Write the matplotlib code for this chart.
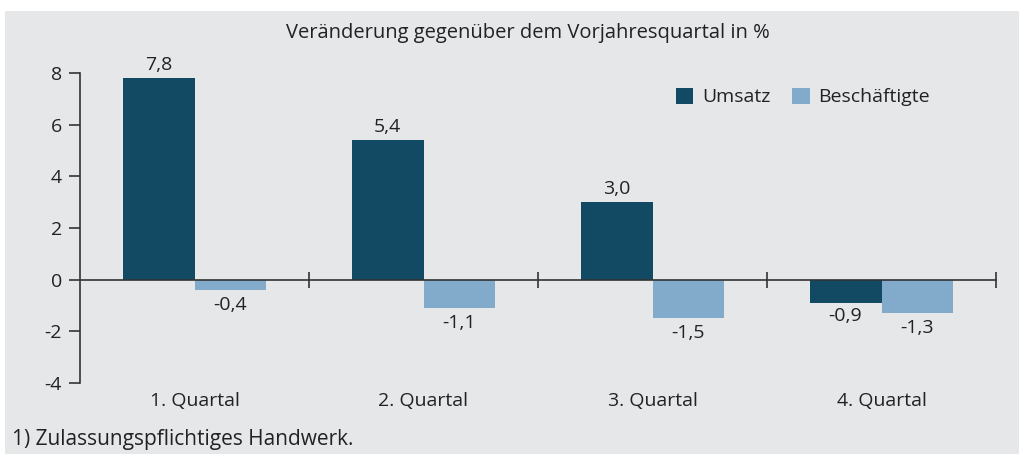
# %% pacotes
import matplotlib
matplotlib.use('Agg')
import matplotlib.pyplot as plt
import matplotlib.transforms as mtransforms
from matplotlib.patches import Rectangle, Patch

plt.rcParams['font.family'] = ['Open Sans', 'DejaVu Sans']
plt.rcParams['axes.unicode_minus'] = False

# %% dados
quartale = ['1. Quartal', '2. Quartal', '3. Quartal', '4. Quartal']
umsatz = [7.8, 5.4, 3.0, -0.9]
beschaeftigte = [-0.4, -1.1, -1.5, -1.3]
y_ticks = [-4, -2, 0, 2, 4, 6, 8]

# %% estilo
c_dunkel = '#134a63'
c_hell = '#82aacb'
c_text = '#222222'
c_bg = '#e6e7e9'
fs = 14

W, H = 1020, 454
fig = plt.figure(figsize=(W / 100, H / 100), dpi=100)
fig.patch.set_facecolor('white')
fig.patches.append(Rectangle((5 / W, 0), 1, 1 - 11 / H, transform=fig.transFigure,
                             facecolor=c_bg, edgecolor='none', zorder=-10))

ax = fig.add_axes([80 / W, 1 - 383 / H, (996 - 80) / W, 310 / H])
ax.set_facecolor('none')
ax.set_zorder(5)

# %% barras
bw = 0.314
xs = [i + 0.5 for i in range(len(quartale))]
ax.bar(xs, umsatz, width=-bw, align='edge', color=c_dunkel, zorder=2)
ax.bar(xs, beschaeftigte, width=bw, align='edge', color=c_hell, zorder=2)

for x, v in zip(xs, umsatz):
    off = 3 if v >= 0 else -3
    ax.annotate(f'{v:.1f}'.replace('.', ','), (x - bw / 2, v), xytext=(0, off),
                textcoords='offset points', ha='center',
                va='bottom' if v >= 0 else 'top', fontsize=fs, color=c_text)
for x, v in zip(xs, beschaeftigte):
    off = 4 if v >= 0 else -4
    ax.annotate(f'{v:.1f}'.replace('.', ','), (x + bw / 2, v), xytext=(0, off),
                textcoords='offset points', ha='center',
                va='bottom' if v >= 0 else 'top', fontsize=fs, color=c_text)

# %% eixos
ax.set_xlim(0, 4)
ax.set_ylim(-4, 8)
ax.set_yticks(y_ticks)
ax.set_yticklabels([str(t) for t in y_ticks])
ax.tick_params(axis='y', direction='out', length=8, width=1.2, colors='#333333',
               labelsize=fs, labelcolor=c_text, pad=5)
for s in ['top', 'right']:
    ax.spines[s].set_visible(False)
ax.spines['left'].set_color('#333333')
ax.spines['left'].set_linewidth(1.2)
ax.spines['bottom'].set_position(('data', 0))
ax.spines['bottom'].set_color('#333333')
ax.spines['bottom'].set_linewidth(1.2)
ax.spines['bottom'].set_zorder(3)
ax.set_xticks([1, 2, 3, 4])
ax.set_xticklabels([])
ax.tick_params(axis='x', direction='inout', length=12, width=1.2, colors='#333333')

trans = mtransforms.blended_transform_factory(ax.transData, ax.transAxes)
for x, q in zip(xs, quartale):
    ax.text(x, -0.058, q, transform=trans, ha='center', va='center',
            fontsize=fs, color=c_text)

# %% textos
fig.text(528 / W, 1 - 33 / H, 'Veränderung gegenüber dem Vorjahresquartal in %',
         ha='center', va='center', fontsize=14.5, color=c_text)
fig.text(12 / W, 1 - 440 / H, '1) Zulassungspflichtiges Handwerk.',
         ha='left', va='center', fontsize=15, color=c_text)

handles = [Patch(facecolor=c_dunkel, label='Umsatz'),
           Patch(facecolor=c_hell, label='Beschäftigte')]
fig.legend(handles=handles, loc='center left', bbox_to_anchor=(676 / W, 1 - 97 / H),
           ncol=2, frameon=False, fontsize=fs, borderpad=0, borderaxespad=0,
           handlelength=0.9, handleheight=0.9, handletextpad=0.45,
           columnspacing=1.1, labelcolor=c_text)

fig.savefig('out.png', dpi=100)
